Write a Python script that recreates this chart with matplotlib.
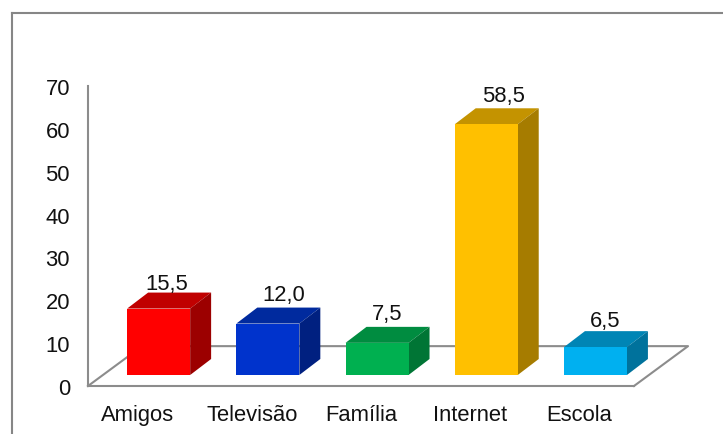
import matplotlib
matplotlib.use('Agg')
import matplotlib.pyplot as plt
from matplotlib.lines import Line2D
from matplotlib.patches import Polygon
from matplotlib.transforms import ScaledTranslation

categories = ['Amigos', 'Televisão', 'Família', 'Internet', 'Escola']
values = [15.5, 12.0, 7.5, 58.5, 6.5]
value_labels = ['15,5', '12,0', '7,5', '58,5', '6,5']
y_ticks = [0, 10, 20, 30, 40, 50, 60, 70]

front_colors = ['#FF0000', '#0033CC', '#00B050', '#FFC000', '#00B0F0']
top_colors = ['#C00000', '#002A9E', '#008C40', '#C49300', '#0085B5']
side_colors = ['#9C0000', '#002080', '#007535', '#A67C00', '#00729C']

W, H = 723, 435
GRAY = '#8C8C8C'

plt.rcParams['font.family'] = ['Liberation Sans', 'DejaVu Sans']

fig = plt.figure(figsize=(W / 100, H / 100), dpi=100)
ax = fig.add_axes([88 / W, (H - 387) / H, 546 / W, 300 / H])
ax.set_xlim(-0.5, 4.5)
ax.set_ylim(0, 70)
ax.patch.set_visible(False)

for side in ['top', 'right']:
    ax.spines[side].set_visible(False)
for side in ['left', 'bottom']:
    ax.spines[side].set_color(GRAY)
    ax.spines[side].set_linewidth(1.5)

ax.set_yticks(y_ticks)
ax.set_xticks(range(len(categories)))
ax.set_xticklabels(categories)
ax.tick_params(axis='y', length=0, pad=13, labelsize=15.8, labelcolor='#111111')
ax.tick_params(axis='x', length=0, pad=13, labelsize=15.8, labelcolor='#111111')

# first label sits a bit left of its tick in the original
lbl = ax.get_xticklabels()[0]
lbl.set_transform(lbl.get_transform() + ScaledTranslation(-4 / 72, 0, fig.dpi_scale_trans))

# floor of the 3d box, goes behind the bars
floor_back = 9.3
ax.plot([-0.5, -0.005, 4.995, 4.5], [0, floor_back, floor_back, 0],
        color=GRAY, lw=1.5, clip_on=False, zorder=1)

# bar geometry in axis units
bar_shift = 0.147
bar_w = 0.577
base = 2.57
dx = 0.192
dy = 3.73
# small offsets of the value labels, in pixels
nudge = [(8, 4), (16, 8), (10, 8), (17, 7), (10, 5)]

for i, v in enumerate(values):
    x0 = i + bar_shift - bar_w / 2
    x1 = x0 + bar_w
    y0 = base
    y1 = base + v
    ax.bar(x0, v, width=bar_w, bottom=base, align='edge', color=front_colors[i], lw=0, zorder=4)
    ax.add_patch(Polygon([(x0, y1), (x1, y1), (x1 + dx, y1 + dy), (x0 + dx, y1 + dy)],
                         closed=True, facecolor=top_colors[i], edgecolor='none', zorder=3, clip_on=False))
    ax.add_patch(Polygon([(x1, y0), (x1 + dx, y0 + dy), (x1 + dx, y1 + dy), (x1, y1)],
                         closed=True, facecolor=side_colors[i], edgecolor='none', zorder=3, clip_on=False))
    ax.annotate(value_labels[i], (i + bar_shift, y1 + dy),
                xytext=(nudge[i][0] * 0.72, nudge[i][1] * 0.72), textcoords='offset points',
                ha='center', va='baseline', fontsize=15.8, color='#111111', annotation_clip=False)

# outer chart frame, only top and left are inside the picture
fig.add_artist(Line2D([12 / W, 1], [(H - 14) / H, (H - 14) / H], color='#868686', lw=1.5))
fig.add_artist(Line2D([12 / W, 12 / W], [0, (H - 14) / H], color='#868686', lw=1.5))

fig.savefig('out.png', dpi=100)
